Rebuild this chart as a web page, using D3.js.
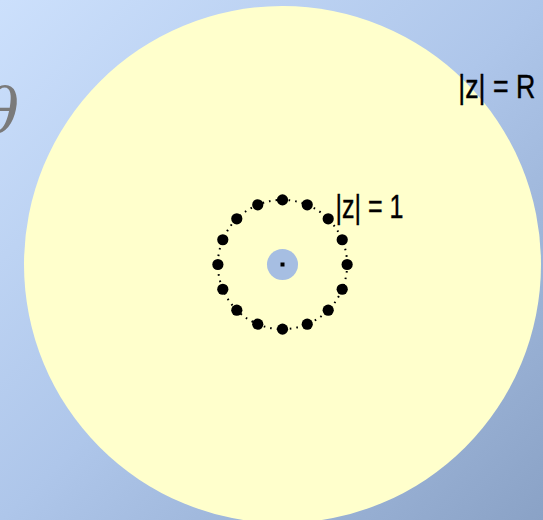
<!DOCTYPE html>
<html>
<head>
<meta charset="utf-8">
<script src="https://cdn.jsdelivr.net/npm/d3@7"></script>
<style>
  html, body { margin: 0; padding: 0; overflow: hidden; }
  svg { display: block; }
</style>
</head>
<body>
<script>
// Contour picture in the complex plane: annulus eps < |z| < R with sample points on |z| = 1
const outerRadius = 4;        // |z| = R
const unitRadius = 1;         // |z| = 1
const holeRadius = 0.24;      // small excluded disc around the origin
const pointAnglesDeg = [0, 22.5, 45, 67.5, 90, 112.5, 135, 157.5,
                        180, 202.5, 225, 247.5, 270, 292.5, 315, 337.5];
const circleLabels = ["|z| = 1", "|z| = R"];
const angleSymbol = "θ";

const W = 543, H = 520;
const cx = 282.5, cy = 264.5, pxR = 258.5;

const svg = d3.select("body").append("svg")
  .attr("width", W).attr("height", H);

const defs = svg.append("defs");
const grad = defs.append("linearGradient")
  .attr("id", "bg").attr("x1", "0").attr("y1", "0").attr("x2", "1").attr("y2", "1");
grad.append("stop").attr("offset", "0").attr("stop-color", "#cce0fc");
grad.append("stop").attr("offset", "0.5").attr("stop-color", "#aec6ea");
grad.append("stop").attr("offset", "1").attr("stop-color", "#8aa2c6");

svg.append("rect").attr("width", W).attr("height", H).attr("fill", "url(#bg)");

// plane coordinates -> pixels
const x = d3.scaleLinear().domain([-outerRadius, outerRadius]).range([cx - pxR, cx + pxR]);
const y = d3.scaleLinear().domain([-outerRadius, outerRadius]).range([cy + pxR, cy - pxR]);
const r = v => x(v) - x(0);

// angle symbol at the left edge
svg.append("text")
  .attr("x", 19).attr("y", 132)
  .attr("text-anchor", "end")
  .attr("font-family", "'DejaVu Serif', 'Liberation Serif', serif")
  .attr("font-style", "italic")
  .attr("font-size", 62)
  .attr("fill", "#7a7a7a")
  .text(angleSymbol);

// outer disc |z| < R
svg.append("circle")
  .attr("cx", x(0)).attr("cy", y(0)).attr("r", r(outerRadius))
  .attr("fill", "#ffffcc");

// excluded small disc
svg.append("circle")
  .attr("cx", x(0)).attr("cy", y(0)).attr("r", r(holeRadius))
  .attr("fill", "#a6bee2");

// origin marker
svg.append("rect")
  .attr("x", x(0) - 2).attr("y", y(0) - 2)
  .attr("width", 4).attr("height", 4)
  .attr("fill", "#000");

// dotted unit circle
svg.append("circle")
  .attr("cx", x(0)).attr("cy", y(0)).attr("r", r(unitRadius))
  .attr("fill", "none")
  .attr("stroke", "#000")
  .attr("stroke-width", 2)
  .attr("stroke-dasharray", "1.6 5");

// sample points on |z| = 1
svg.append("g").selectAll("circle")
  .data(pointAnglesDeg)
  .join("circle")
  .attr("cx", d => x(unitRadius * Math.cos(d * Math.PI / 180)))
  .attr("cy", d => y(unitRadius * Math.sin(d * Math.PI / 180)))
  .attr("r", 5.6)
  .attr("fill", "#000");

// circle labels (tall, narrow lettering)
function label(txt, px, py, len) {
  svg.append("text")
    .attr("transform", `translate(${px},${py}) scale(1,1.38)`)
    .attr("font-family", "'Liberation Sans', Arial, sans-serif")
    .attr("font-size", 24)
    .attr("fill", "#000")
    .attr("stroke", "#000")
    .attr("stroke-width", 0.3)
    .attr("textLength", len)
    .attr("lengthAdjust", "spacingAndGlyphs")
    .text(txt);
}
label(circleLabels[0], x(0.82), y(0.72), 68);
label(circleLabels[1], x(2.72), y(2.58), 77);
</script>
</body>
</html>
